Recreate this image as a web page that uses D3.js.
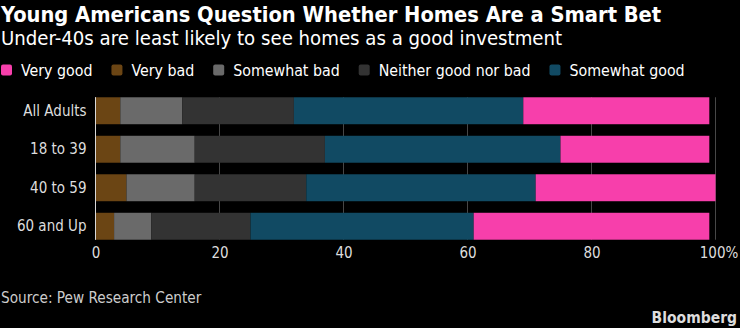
<!DOCTYPE html>
<html>
<head>
<meta charset="utf-8">
<script src="https://cdn.jsdelivr.net/npm/d3@7"></script>
<style>
  body { margin: 0; background: #000; }
  svg text { font-family: "DejaVu Sans Condensed", "DejaVu Sans", sans-serif; font-stretch: condensed; }
</style>
</head>
<body>
<div id="chart"></div>
<script>
// --- data ---
const categories = ['All Adults', '18 to 39', '40 to 59', '60 and Up'];
const veryBad = [4, 4, 5, 3];
const somewhatBad = [10, 12, 11, 6];
const neither = [18, 21, 18, 16];
const somewhatGood = [37, 38, 37, 36];
const veryGood = [30, 24, 29, 38];
const xTicks = [0, 20, 40, 60, 80, 100];

const series = [
    { key: 'veryBad', name: 'Very bad', values: veryBad, color: '#6b4514' },
    { key: 'somewhatBad', name: 'Somewhat bad', values: somewhatBad, color: '#6a6a6a' },
    { key: 'neither', name: 'Neither good nor bad', values: neither, color: '#333333' },
    { key: 'somewhatGood', name: 'Somewhat good', values: somewhatGood, color: '#114a63' },
    { key: 'veryGood', name: 'Very good', values: veryGood, color: '#f73fab' }
];
// legend lists "Very good" first
const legendOrder = ['veryGood', 'veryBad', 'somewhatBad', 'neither', 'somewhatGood'];

const W = 740, H = 328;
const svg = d3.select('#chart').append('svg')
    .attr('width', W).attr('height', H)
    .style('background', '#000');

// titles
svg.append('text').attr('x', 1).attr('y', 22)
    .attr('fill', '#fff').attr('font-size', 21.7).attr('font-weight', 'bold')
    .text('Young Americans Question Whether Homes Are a Smart Bet');
svg.append('text').attr('x', 1).attr('y', 45)
    .attr('fill', '#fff').attr('font-size', 20.2)
    .text('Under-40s are least likely to see homes as a good investment');

// legend
const legend = svg.append('g').attr('transform', 'translate(1, 70)');
let lx = 0;
legendOrder.forEach(k => {
    const s = series.find(d => d.key === k);
    const g = legend.append('g').attr('transform', `translate(${lx},0)`);
    g.append('rect').attr('x', 0).attr('y', -5.5).attr('width', 11).attr('height', 11)
        .attr('rx', 2).attr('fill', s.color);
    const t = g.append('text').attr('x', 20).attr('dy', '0.35em')
        .attr('fill', '#fff').attr('font-size', 15.8).text(s.name);
    lx += 20 + t.node().getComputedTextLength() + 19;
});

// scales
const x = d3.scaleLinear().domain([0, 100]).range([95.5, 715.5]);
const y = d3.scaleBand().domain(categories).range([91.5, 245.5])
    .paddingInner(0.3).paddingOuter(0.15);

const rows = categories.map((c, i) => {
    const r = { category: c };
    series.forEach(s => { r[s.key] = s.values[i]; });
    return r;
});
const stacked = d3.stack().keys(series.map(s => s.key))(rows);

const yTop = y(categories[0]);
const yBot = y(categories[categories.length - 1]) + y.bandwidth();

// gridlines
svg.append('g').selectAll('line')
    .data(xTicks)
    .enter().append('line')
    .attr('x1', d => x(d)).attr('x2', d => x(d))
    .attr('y1', yTop).attr('y2', yBot)
    .attr('stroke', d => d === 0 ? '#d8d8d8' : '#474747')
    .attr('stroke-width', 1);

// bars
svg.append('g').selectAll('g')
    .data(stacked)
    .enter().append('g')
    .attr('fill', (d, i) => series[i].color)
    .selectAll('rect')
    .data(d => d)
    .enter().append('rect')
    .attr('x', d => x(d[0]))
    .attr('width', d => x(d[1]) - x(d[0]))
    .attr('y', d => y(d.data.category))
    .attr('height', y.bandwidth());

// zero line over bars
svg.append('line')
    .attr('x1', x(0)).attr('x2', x(0))
    .attr('y1', yTop).attr('y2', yBot)
    .attr('stroke', '#d8d8d8').attr('stroke-width', 1);

// x axis
const xAxis = d3.axisBottom(x).tickValues(xTicks)
    .tickFormat(d => d === 100 ? '100%' : d)
    .tickSize(0).tickPadding(8);
const xg = svg.append('g').attr('transform', `translate(0,${yBot})`).call(xAxis);
xg.select('.domain').remove();
xg.selectAll('text').attr('fill', '#ddd').attr('font-size', 15)
    .style('font-family', '"DejaVu Sans Condensed", "DejaVu Sans", sans-serif');
xg.selectAll('text').filter(d => d === 100).attr('text-anchor', 'middle').attr('dx', 3);

// y axis
const yAxis = d3.axisLeft(y).tickSize(0).tickPadding(8);
const yg = svg.append('g').attr('transform', `translate(${x(0) - 1},0)`).call(yAxis);
yg.select('.domain').remove();
yg.selectAll('text').attr('fill', '#ddd').attr('font-size', 15)
    .style('font-family', '"DejaVu Sans Condensed", "DejaVu Sans", sans-serif');

// footer
svg.append('text').attr('x', 1).attr('y', 303)
    .attr('fill', '#ccc').attr('font-size', 15.2)
    .text('Source: Pew Research Center');
svg.append('text').attr('x', 737).attr('y', 323)
    .attr('text-anchor', 'end')
    .attr('fill', '#ddd').attr('font-size', 15.5).attr('font-weight', 'bold')
    .text('Bloomberg');
</script>
</body>
</html>
